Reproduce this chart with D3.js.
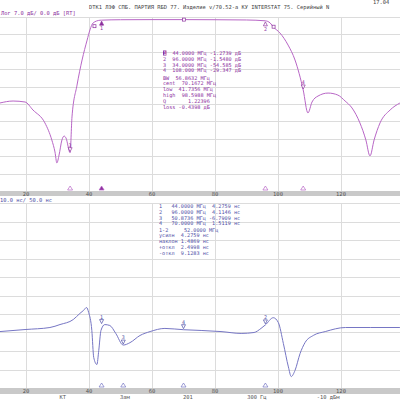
<!DOCTYPE html>
<html>
<head>
<meta charset="utf-8">
<script src="https://cdn.jsdelivr.net/npm/d3@7"></script>
<style>
body { margin: 0; background: #fff; }
svg text { font-family: "DejaVu Sans Mono", "Liberation Mono", monospace; }
</style>
</head>
<body>
<svg id="chart" width="400" height="400"></svg>
<script>
// frequency (MHz) vs S21 log magnitude (dB)
var magFreq = [11.7, 15.9, 19.7, 22.2, 26.0, 28.2, 29.2, 29.8, 30.5, 31.4, 32.1, 32.7, 34.0, 34.6, 36.2, 37.8, 39.4, 40.3, 41.3, 43.5, 44, 50, 60, 70, 80, 90, 96, 97.5, 98.6, 100.6, 103.2, 105.4, 108, 109.5, 110.8, 112.7, 115.9, 119.0, 121.3, 123.5, 126.0, 127.9, 129.2, 130.5, 132.4, 135.6, 138.7];
var magDb =   [-34.6, -33.8, -34.2, -37.4, -42.6, -49.5, -54.3, -58.7, -55.5, -49.5, -47.9, -48.7, -54.6, -40.2, -27.4, -17.3, -9.3, -5.2, -2.4, -1.3, -1.27, -1.1, -1.05, -1.05, -1.1, -1.2, -1.54, -2.4, -4.1, -6.4, -11.3, -17.3, -29.35, -38.6, -34.2, -31.8, -30.6, -31.4, -33.8, -36.6, -42.6, -49.5, -55.9, -49.5, -42.6, -37.4, -34.6];

// frequency (MHz) vs group delay (ns)
var gdFreq = [11.7, 19.7, 27.6, 30.8, 35.0, 37.1, 38.3, 39.2, 39.9, 40.9, 41.5, 42.5, 43.1, 43.8, 45.0, 46.6, 48.5, 50.87, 53.0, 56.2, 59.4, 64.1, 70, 75.6, 81.9, 88.3, 92.4, 94.6, 96, 98.5, 100.1, 101.7, 103.3, 104.2, 105.4, 107.0, 108.6, 111.2, 115.0, 121.4, 129.3, 138.7];
var gdNs =   [0.5, 1.6, 2.7, 4.3, 7.0, 10.3, 12.0, 13.5, 10.8, 1.1, -13.5, -17.3, -9.7, 1.1, 4.28, 3.8, -0.5, -6.79, -5.5, -1.6, 0.5, 2.2, 1.51, 1.1, 0.5, -0.5, 0.0, 2.2, 4.11, 8.0, 5.4, -5.9, -18.6, -23.8, -20.5, -11.4, -5.4, -1.6, 0.5, 2.7, 2.7, 2.7];

var magMarkers = [{n: '1', f: 44, v: -1.2739, active: true}, {n: '2', f: 96, v: -1.5480}, {n: '3', f: 34, v: -54.585}, {n: '4', f: 108, v: -29.347}];
var bwMarkers = [{f: 41.7356, v: -3.7}, {f: 70.1672, v: -1.05}, {f: 98.5988, v: -3.9}];
var gdMarkers = [{n: '1', f: 44, v: 4.2759}, {n: '2', f: 96, v: 4.1146}, {n: '3', f: 50.8736, v: -6.7909}, {n: '4', f: 70, v: 1.5119}];

var freqTicks = [20, 40, 60, 80, 100, 120];
var magTable = ['2  96.0000 МГц -1.5480 дБ', '3  34.0000 МГц -54.585 дБ', '4  108.000 МГц -29.347 дБ'];
var magActive = '44.0000 МГц -1.2739 дБ';
var magStats = ['BW  56.8632 МГц', 'cent  70.1672 МГц', 'low  41.7356 МГц', 'high  98.5988 МГц', 'Q       1.22396', 'loss -0.4398 дБ'];
var gdTable = ['1   44.0000 МГц  4.2759 нс', '2   96.0000 МГц  4.1146 нс', '3   50.8736 МГц -6.7909 нс', '4   70.0000 МГц  1.5119 нс'];
var gdStats = ['1-2     52.0000 МГц', 'усилн  4.2759 нс', 'наклон 1.4869 нс', '+откл  2.4998 нс', '-откл  9.1283 нс'];
var footLabels = [{t: 'КТ', f: 31.7}, {t: 'Зам', f: 51.4}, {t: '201', f: 71.4}, {t: '300 Гц', f: 93.3}, {t: '-10 дБм', f: 115.9}];

var svg = d3.select('#chart');
var magColor = '#b866c6', magText = '#8c2f9e';
var gdColor = '#7676c4', gdText = '#4e4ea6';
var gridColor = '#dcdcdc';

var x = d3.scaleLinear().domain([20, 120]).range([26, 341]);
var yMag = d3.scaleLinear().domain([0, -70]).range([17, 191]);
var yGd = d3.scaleLinear().domain([70, -30]).range([203, 388]);

function panel(y, step, barY) {
    var g = svg.append('g');
    var d0 = y.domain();
    var vals = d3.range(d0[0], d0[1] - 0.001, -step);
    g.selectAll('line.h').data(vals).enter().append('line')
        .attr('x1', 0).attr('x2', 400)
        .attr('y1', function(d) { return Math.round(y(d)) + 0.5; })
        .attr('y2', function(d) { return Math.round(y(d)) + 0.5; })
        .attr('stroke', gridColor);
    g.selectAll('line.v').data(freqTicks).enter().append('line')
        .attr('x1', function(d) { return Math.round(x(d)) + 0.5; })
        .attr('x2', function(d) { return Math.round(x(d)) + 0.5; })
        .attr('y1', y.range()[0]).attr('y2', y.range()[1])
        .attr('stroke', gridColor);
    g.append('rect').attr('x', 0).attr('y', barY).attr('width', 400).attr('height', 6).attr('fill', '#c9c9c9');
    g.selectAll('text').data(freqTicks).enter().append('text')
        .attr('x', function(d) { return x(d); }).attr('y', barY + 5)
        .attr('text-anchor', 'middle').attr('font-size', 5.5).attr('fill', '#555')
        .text(function(d) { return d; });
    return g;
}

panel(yMag, 7, 191);
panel(yGd, 10, 388);

// traces
var magLine = d3.line().x(function(d) { return x(d[0]); }).y(function(d) { return yMag(d[1]); }).curve(d3.curveMonotoneX);
svg.append('path').attr('d', magLine(d3.zip(magFreq, magDb))).attr('fill', 'none').attr('stroke', magColor).attr('stroke-width', 1);
var gdLine = d3.line().x(function(d) { return x(d[0]); }).y(function(d) { return yGd(d[1]); }).curve(d3.curveMonotoneX);
svg.append('path').attr('d', gdLine(d3.zip(gdFreq, gdNs))).attr('fill', 'none').attr('stroke', gdColor).attr('stroke-width', 1);

// bw squares
svg.selectAll('rect.bw').data(bwMarkers).enter().append('rect')
    .attr('x', function(d) { return x(d.f) - 1.5; }).attr('y', function(d) { return yMag(d.v) - 1.5; })
    .attr('width', 3).attr('height', 3).attr('fill', '#fff').attr('stroke', magText).attr('stroke-width', 0.7);

// markers on magnitude trace
magMarkers.forEach(function(m) {
    var px = x(m.f), py = yMag(m.v);
    var up = m.v > -10;
    var g = svg.append('g');
    if (up) {
        g.append('path').attr('d', 'M' + px + ',' + (py + 1) + 'l-2,4h4z')
            .attr('fill', m.active ? magText : '#fff').attr('stroke', magText).attr('stroke-width', 0.7);
        g.append('text').attr('x', px).attr('y', py + 10).attr('text-anchor', 'middle')
            .attr('font-size', 5).attr('fill', magText).text(m.n);
    } else {
        g.append('path').attr('d', 'M' + px + ',' + (py - 1) + 'l-2,-4h4z')
            .attr('fill', '#fff').attr('stroke', magText).attr('stroke-width', 0.7);
        g.append('text').attr('x', px).attr('y', py - 6).attr('text-anchor', 'middle')
            .attr('font-size', 5).attr('fill', magText).text(m.n);
    }
    svg.append('path').attr('d', 'M' + px + ',186l-2.5,4h5z')
        .attr('fill', m.active ? magText : '#fff').attr('stroke', magColor).attr('stroke-width', 0.7);
});

// markers on delay trace
gdMarkers.forEach(function(m) {
    var px = x(m.f), py = yGd(m.v);
    svg.append('path').attr('d', 'M' + px + ',' + (py - 1) + 'l-2,-4h4z')
        .attr('fill', '#fff').attr('stroke', gdText).attr('stroke-width', 0.7);
    svg.append('text').attr('x', px).attr('y', py - 6).attr('text-anchor', 'middle')
        .attr('font-size', 5).attr('fill', gdText).text(m.n);
    svg.append('path').attr('d', 'M' + px + ',383l-2.5,4h5z')
        .attr('fill', '#fff').attr('stroke', gdColor).attr('stroke-width', 0.7);
});

// header texts
svg.append('text').attr('x', 89).attr('y', 9).attr('font-size', 5.4).attr('fill', '#444')
    .text('DTK1 ЛЭФ СПБ. ПАРТИЯ RБD 77. Изделие v/70.52-a КУ INTERSTAT 75. Серийный N');
svg.append('text').attr('x', 373).attr('y', 4).attr('font-size', 5.4).attr('fill', '#444').text('17.04');
svg.append('text').attr('x', 1).attr('y', 15).attr('font-size', 5.4).attr('fill', magText).text('Лог 7.0 дБ/ 0.0 дБ [RT]');
svg.append('rect').attr('x', 0).attr('y', 196).attr('width', 400).attr('height', 7).attr('fill', '#fff');
svg.append('text').attr('x', 0).attr('y', 202).attr('font-size', 5.4).attr('fill', gdText).text('10.0 нс/ 50.0 нс');

// marker tables
function table(rows, x0, y0, color) {
    svg.append('g').selectAll('text').data(rows).enter().append('text')
        .attr('x', x0).attr('y', function(d, i) { return y0 + i * 5.8; })
        .attr('font-size', 5.2).attr('fill', color).attr('xml:space', 'preserve')
        .text(function(d) { return d; });
}
svg.append('rect').attr('x', 163).attr('y', 50.5).attr('width', 3.4).attr('height', 5).attr('fill', magText);
svg.append('text').attr('x', 163.2).attr('y', 55).attr('font-size', 5.2).attr('fill', '#fff').text('1');
svg.append('text').attr('x', 172.4).attr('y', 55).attr('font-size', 5.2).attr('fill', magText).text(magActive);
table(magTable, 163, 60.8, magText);
table(magStats, 163, 79.5, magText);
table(gdTable, 159, 208, gdText);
table(gdStats, 159, 231.5, gdText);

// footer labels
svg.selectAll('text.foot').data(footLabels).enter().append('text')
    .attr('x', function(d) { return x(d.f); }).attr('y', 399)
    .attr('text-anchor', 'middle').attr('font-size', 5.4).attr('fill', '#555')
    .text(function(d) { return d.t; });
</script>
</body>
</html>
